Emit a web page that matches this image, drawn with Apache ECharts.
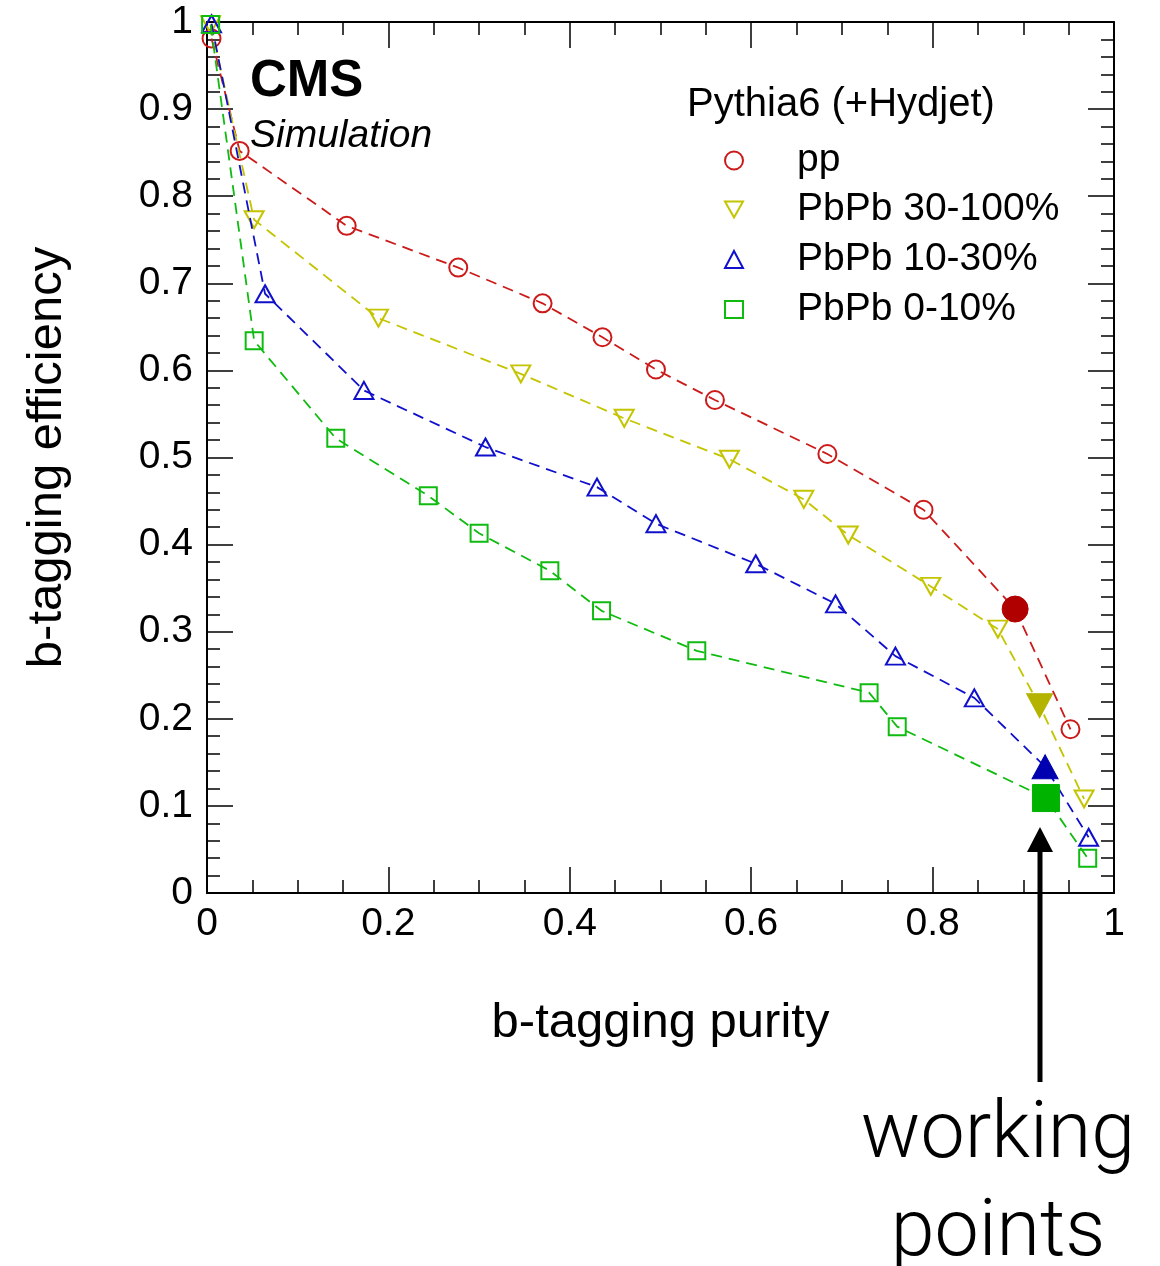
<!DOCTYPE html>
<html>
<head>
<meta charset="utf-8">
<script src="https://cdn.jsdelivr.net/npm/echarts@6/dist/echarts.min.js"></script>
<style>
  html, body { margin: 0; padding: 0; background: #fff; }
  #chart { width: 1160px; height: 1266px; }
</style>
</head>
<body>
<div id="chart"></div>
<script>
// b-tagging purity / efficiency, one [x, y] pair per point
// the working point of each curve is flagged by wpIndex
const ppPts = [
  [0.005, 0.981], [0.036, 0.852], [0.154, 0.766], [0.277, 0.718], [0.370, 0.677],
  [0.436, 0.638], [0.495, 0.601], [0.560, 0.566], [0.684, 0.504], [0.790, 0.440],
  [0.891, 0.326], [0.952, 0.188]
]
const pbpb30100Pts = [
  [0.004, 0.997], [0.052, 0.773], [0.189, 0.660], [0.346, 0.596], [0.460, 0.545],
  [0.576, 0.498], [0.658, 0.452], [0.707, 0.411], [0.798, 0.352], [0.872, 0.303],
  [0.918, 0.215], [0.967, 0.108]
]
const pbpb1030Pts = [
  [0.005, 0.998], [0.064, 0.688], [0.173, 0.577], [0.307, 0.512], [0.430, 0.466],
  [0.495, 0.424], [0.605, 0.378], [0.693, 0.332], [0.759, 0.272], [0.846, 0.224],
  [0.924, 0.145], [0.972, 0.064]
]
const pbpb010Pts = [
  [0.004, 0.997], [0.052, 0.634], [0.142, 0.522], [0.244, 0.456], [0.300, 0.413],
  [0.378, 0.370], [0.435, 0.324], [0.540, 0.278], [0.730, 0.230], [0.761, 0.191],
  [0.925, 0.109], [0.971, 0.040]
]
const wpIndex = 10

const seriesNames = ['pp', 'PbPb 30-100%', 'PbPb 10-30%', 'PbPb 0-10%']
const xTicks = [0, 0.2, 0.4, 0.6, 0.8, 1]
const yTicks = [0, 0.1, 0.2, 0.3, 0.4, 0.5, 0.6, 0.7, 0.8, 0.9, 1]

const FONT = '"Liberation Sans", Arial, Helvetica, sans-serif'

const styles = [
  { color: '#cc1a1a', fill: '#b00000', symbol: 'circle', icon: 'circle', rotate: 0, size: 18, wpSize: 26 },
  { color: '#c4c400', fill: '#b3b300', symbol: 'triangle', icon: 'path://M0,0L19,0L9.5,17Z', rotate: 180, size: [19, 17], wpSize: [26, 24] },
  { color: '#1010cc', fill: '#0000b0', symbol: 'triangle', icon: 'triangle', rotate: 0, size: [19, 17], wpSize: [26, 24] },
  { color: '#10bb10', fill: '#00b300', symbol: 'rect', icon: 'rect', rotate: 0, size: 17, wpSize: 27 }
]

const allPts = [ppPts, pbpb30100Pts, pbpb1030Pts, pbpb010Pts]

function buildData(pts, st) {
  return pts.map((p, i) => {
    if (i !== wpIndex) return p
    return {
      value: p,
      symbolSize: st.wpSize,
      itemStyle: { color: st.fill, borderColor: st.fill, borderWidth: 1 }
    }
  })
}

const series = allPts.map((pts, k) => {
  const st = styles[k]
  return {
    name: seriesNames[k],
    type: 'line',
    data: buildData(pts, st),
    symbol: st.symbol,
    symbolRotate: st.rotate,
    symbolSize: st.size,
    showAllSymbol: true,
    animation: false,
    z: 2 + k,
    lineStyle: { color: st.color, width: 1.8, type: [11, 7] },
    itemStyle: { color: 'rgba(0,0,0,0)', borderColor: st.color, borderWidth: 2 }
  }
})

// one legend block per entry so rows sit where they do in the figure
const legendRowsY = [159, 208, 258, 308]
const legends = seriesNames.map((name, k) => {
  const st = styles[k]
  return {
    data: [name],
    left: 724,
    top: legendRowsY[k] - 18,
    padding: 0,
    icon: st.icon,
    symbolRotate: 0,
    itemWidth: 18,
    itemHeight: k === 0 ? 18 : 17,
    selectedMode: false,
    itemStyle: { color: 'rgba(0,0,0,0)', borderColor: st.color, borderWidth: 2 },
    textStyle: { fontFamily: FONT, fontSize: 39, color: '#000', padding: [0, 0, 0, 49] }
  }
})

const axisCommon = {
  type: 'value',
  min: 0,
  max: 1,
  splitLine: { show: false },
  axisLine: { show: true, onZero: false, lineStyle: { color: '#000', width: 2 } },
  axisTick: { show: true, inside: true, length: 26, lineStyle: { color: '#000', width: 1.5 } },
  minorTick: { show: true, length: 13, lineStyle: { color: '#000', width: 1.5 } }
}

const chart = echarts.init(document.getElementById('chart'))
chart.setOption({
  backgroundColor: '#fff',
  animation: false,
  grid: { left: 207, top: 22, width: 907, height: 871 },
  legend: legends,
  xAxis: [
    Object.assign({}, axisCommon, {
      position: 'bottom',
      interval: 0.2,
      minorTick: Object.assign({}, axisCommon.minorTick, { splitNumber: 4 }),
      axisLabel: {
        margin: 12, fontFamily: FONT, fontSize: 39, color: '#000',
        formatter: v => xTicks.includes(+v.toFixed(1)) ? String(+v.toFixed(1)) : ''
      },
      name: 'b-tagging purity',
      nameLocation: 'middle',
      nameGap: 106,
      nameTextStyle: { fontFamily: FONT, fontSize: 49, color: '#000' }
    }),
    Object.assign({}, axisCommon, {
      position: 'top',
      interval: 0.2,
      minorTick: Object.assign({}, axisCommon.minorTick, { splitNumber: 4 }),
      axisLabel: { show: false }
    })
  ],
  yAxis: [
    Object.assign({}, axisCommon, {
      position: 'left',
      interval: 0.1,
      minorTick: Object.assign({}, axisCommon.minorTick, { splitNumber: 5 }),
      axisLabel: {
        margin: 14, fontFamily: FONT, fontSize: 39, color: '#000',
        formatter: v => yTicks.includes(+v.toFixed(1)) ? String(+v.toFixed(1)) : ''
      },
      name: 'b-tagging efficiency',
      nameLocation: 'middle',
      nameGap: 135,
      nameTextStyle: { fontFamily: FONT, fontSize: 49, color: '#000' }
    }),
    Object.assign({}, axisCommon, {
      position: 'right',
      interval: 0.1,
      minorTick: Object.assign({}, axisCommon.minorTick, { splitNumber: 5 }),
      axisLabel: { show: false }
    })
  ],
  graphic: [
    { type: 'text', left: 250, top: 56, style: { text: 'CMS', font: 'bold 51px ' + FONT, fill: '#000' } },
    { type: 'text', left: 250, top: 117, style: { text: 'Simulation', font: 'italic 39px ' + FONT, fill: '#000' } },
    { type: 'text', left: 687, top: 85, style: { text: 'Pythia6 (+Hydjet)', font: '40px ' + FONT, fill: '#000' } },
    // arrow pointing at the working points
    { type: 'line', shape: { x1: 1040, y1: 1082, x2: 1040, y2: 848 }, style: { stroke: '#000', lineWidth: 5 } },
    { type: 'polygon', shape: { points: [[1027, 852], [1053, 852], [1040, 827]] }, style: { fill: '#000' } },
    { type: 'text', x: 998, y: 1137, style: { text: 'working', font: '300 79px Roboto, ' + FONT, fill: '#000', align: 'center', verticalAlign: 'middle' } },
    { type: 'text', x: 998, y: 1235, style: { text: 'points', font: '300 79px Roboto, ' + FONT, fill: '#000', align: 'center', verticalAlign: 'middle' } }
  ],
  series: series
})
</script>
</body>
</html>
